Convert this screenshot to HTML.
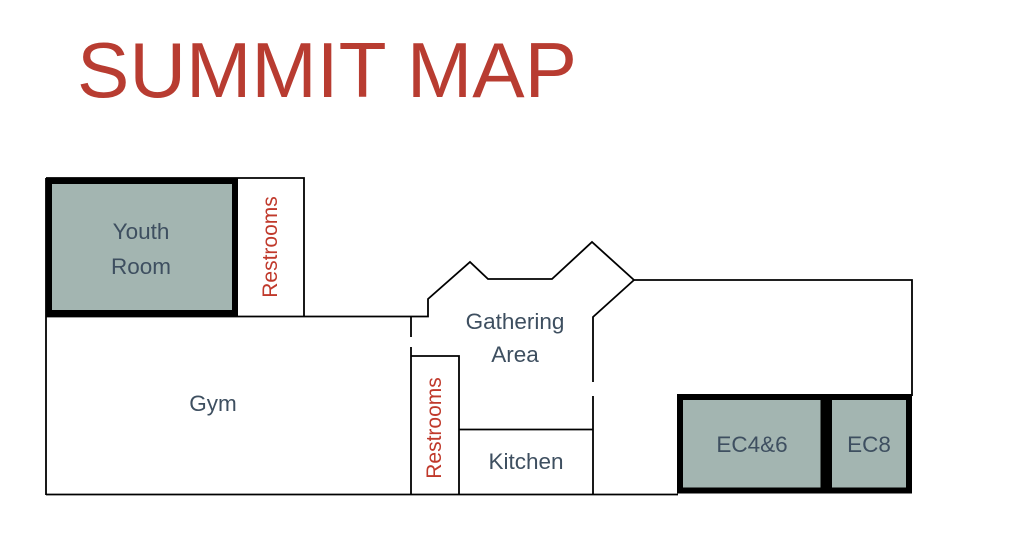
<!DOCTYPE html>
<html>
<head>
<meta charset="utf-8">
<style>
html,body{margin:0;padding:0;background:#fff;}
body{width:1024px;height:543px;overflow:hidden;}
svg{display:block;}
.lbl{font-family:"Liberation Sans",sans-serif;font-size:22.5px;fill:#3e4f60;text-anchor:middle;}
.red{font-family:"Liberation Sans",sans-serif;font-size:21px;fill:#c0392b;text-anchor:middle;}
</style>
</head>
<body>
<svg width="1024" height="543" viewBox="0 0 1024 543" xmlns="http://www.w3.org/2000/svg">
  <rect x="0" y="0" width="1024" height="543" fill="#fff"/>
  <text x="77" y="97" font-family="Liberation Sans, sans-serif" font-size="78" fill="#b83c31" textLength="500" lengthAdjust="spacingAndGlyphs">SUMMIT MAP</text>

  <g fill="none" stroke="#000" stroke-width="1.8" stroke-linejoin="miter">
    <polyline points="46,178 304,178 304,316.5"/>
    <line x1="46" y1="178" x2="46" y2="495"/>
    <polyline points="46,316.5 428,316.5 428,299 470,262 488,279 552,279 592,242 634,280 912,280 912,396"/>
    <polyline points="634,280 593,317 593,382"/>
    <line x1="593" y1="396" x2="593" y2="495"/>
    <line x1="411" y1="316" x2="411" y2="337"/>
    <line x1="411" y1="347" x2="411" y2="495"/>
    <polyline points="411,356 459,356 459,495"/>
    <line x1="459" y1="429.5" x2="593" y2="429.5"/>
    <line x1="46" y1="494.5" x2="678" y2="494.5"/>
  </g>

  <rect x="49" y="181" width="186" height="132" fill="#a3b5b1" stroke="#000" stroke-width="6"/>
  <rect x="680" y="397" width="143.5" height="93.5" fill="#a3b5b1" stroke="#000" stroke-width="6"/>
  <rect x="829" y="397" width="80" height="93.5" fill="#a3b5b1" stroke="#000" stroke-width="6"/>

  <text class="lbl" x="141" y="239">Youth</text>
  <text class="lbl" x="141" y="274">Room</text>
  <text class="red" transform="translate(277,247) rotate(-90)">Restrooms</text>
  <text class="lbl" x="213" y="411">Gym</text>
  <text class="lbl" x="515" y="329">Gathering</text>
  <text class="lbl" x="515" y="362">Area</text>
  <text class="red" transform="translate(441,428) rotate(-90)">Restrooms</text>
  <text class="lbl" x="526" y="469">Kitchen</text>
  <text class="lbl" x="752" y="452">EC4&amp;6</text>
  <text class="lbl" x="869" y="452">EC8</text>
</svg>
</body>
</html>
